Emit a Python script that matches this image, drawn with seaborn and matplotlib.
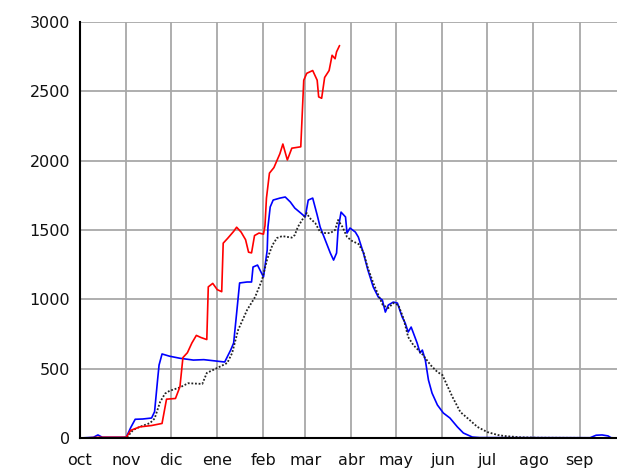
import numpy as np
import pandas as pd
import matplotlib
matplotlib.use("Agg")
import matplotlib.pyplot as plt
import seaborn as sns

# days counted from 1 October
month_starts = [0, 31, 61, 92, 123, 151, 182, 212, 243, 273, 304, 335]
month_labels = ["oct", "nov", "dic", "ene", "feb", "mar", "abr", "may", "jun", "jul", "ago", "sep"]
y_ticks = [0, 500, 1000, 1500, 2000, 2500, 3000]

# current season (red), stops in late March
red_days = [3, 13, 31, 34, 40, 48, 55, 58, 64, 67, 69, 72, 75, 78, 81, 85, 86, 89, 92, 95,
            96, 99, 103, 105, 108, 111, 113, 115, 117, 120, 123, 124, 125, 127, 130, 134,
            136, 139, 142, 148, 150, 152, 156, 159, 160, 162, 164, 167, 169, 171, 172, 174]
red_vals = [0, 5, 5, 55, 80, 90, 105, 280, 285, 370, 580, 615, 685, 740, 725, 710, 1090, 1115,
            1070, 1055, 1405, 1440, 1490, 1520, 1485, 1430, 1340, 1335, 1460, 1478, 1470, 1530,
            1730, 1910, 1950, 2050, 2120, 2005, 2090, 2100, 2580, 2630, 2650, 2580, 2460, 2450,
            2600, 2650, 2760, 2735, 2785, 2830]

# previous season (blue)
blue_days = [0, 9, 12, 15, 31, 34, 37, 42, 48, 50, 52, 53, 55, 60, 67, 76, 83, 97, 101, 103,
             105, 107, 112, 115, 116, 119, 123, 125.5, 126, 127.5, 129.5, 134, 137.6, 141, 144,
             148, 151, 153, 156, 159, 161, 164.4, 167.8, 170, 172, 173, 175, 178, 179, 181,
             184.6, 186.6, 190, 193, 196.6, 200, 202.7, 204.7, 206.7, 210, 212.8, 216, 218,
             220, 222, 223.5, 226, 228, 229.5, 231.5, 233.6, 236, 239.6, 243.6, 248, 253, 257,
             263, 268, 342, 346, 350, 354, 356, 360]
blue_vals = [0, 5, 22, 5, 5, 75, 135, 137, 144, 190, 418, 526, 606, 590, 575, 562, 565, 548,
             634, 685, 900, 1118, 1125, 1125, 1233, 1247, 1161, 1355, 1521, 1666, 1716, 1730,
             1738, 1702, 1658, 1622, 1594, 1716, 1730, 1608, 1521, 1428, 1334, 1283, 1334, 1500,
             1629, 1594, 1478, 1514, 1485, 1449, 1334, 1211, 1089, 1016, 995, 908, 959, 980, 973,
             872, 829, 764, 800, 757, 685, 613, 634, 562, 418, 324, 238, 180, 144, 80, 36, 7, 3,
             2, 20, 22, 15, 2, 0]

# average (black dotted)
avg_days = [0, 29, 31.5, 35.6, 40, 47, 50, 53.7, 57, 60, 67, 72.5, 82, 85, 92, 98.7, 102, 106,
            112, 117.4, 122, 125.5, 129, 132, 135.6, 139, 142, 144, 146, 149.7, 152, 154, 157.7,
            161, 164.4, 167.8, 171, 173, 176, 179, 182.5, 186.6, 190, 193, 196.6, 200, 203,
            206.7, 210, 213.4, 216.8, 220, 223.5, 226.8, 230, 235, 239.6, 243, 246, 249.7, 255,
            259.7, 266.4, 273, 280, 284, 295, 307, 360]
avg_vals = [0, 0, 5, 58, 80, 108, 140, 260, 320, 340, 365, 395, 390, 469, 505, 541, 613, 779,
            923, 1017, 1139, 1290, 1391, 1442, 1456, 1450, 1445, 1464, 1521, 1586, 1622, 1586,
            1550, 1485, 1478, 1478, 1500, 1572, 1521, 1450, 1420, 1400, 1341, 1226, 1118, 1031,
            959, 937, 973, 959, 865, 728, 670, 634, 598, 526, 476, 454, 382, 296, 187, 144, 80,
            43, 22, 15, 5, 2, 0]

sns.set_style("white")
plt.rcParams["font.family"] = ["DejaVu Sans"]

fig = plt.figure(figsize=(6.17, 4.74), dpi=100)
ax = fig.add_axes([80 / 617, 36 / 474, 537 / 617, 416 / 474])

blue = pd.DataFrame({"day": blue_days, "val": blue_vals})
avg = pd.DataFrame({"day": avg_days, "val": avg_vals})
red = pd.DataFrame({"day": red_days, "val": red_vals})

sns.lineplot(data=blue, x="day", y="val", color="#0000ff", lw=1.2, estimator=None, ax=ax)
sns.lineplot(data=avg, x="day", y="val", color="#222222", lw=1.3, ls=(0, (1, 1)),
             estimator=None, ax=ax)
sns.lineplot(data=red, x="day", y="val", color="#ff0000", lw=1.2, estimator=None, ax=ax)

ax.set_xlim(0, 360)
ax.set_ylim(0, 3000)
ax.set_xticks(month_starts)
ax.set_xticklabels(month_labels)
ax.set_yticks(y_ticks)
ax.set_xlabel("")
ax.set_ylabel("")

ax.grid(True, color="#a8a8a8", lw=1.3)
ax.set_axisbelow(True)
ax.tick_params(axis="both", length=4.5, width=1.3, color="#a8a8a8", labelsize=11.5,
               labelcolor="#111111")
ax.tick_params(axis="y", pad=2.5)
ax.tick_params(axis="x", pad=6)

for side in ["top", "right"]:
    ax.spines[side].set_visible(False)
for side in ["left", "bottom"]:
    ax.spines[side].set_color("black")
    ax.spines[side].set_linewidth(1.5)
    ax.spines[side].set_zorder(3)

fig.savefig("out.png", dpi=100)
